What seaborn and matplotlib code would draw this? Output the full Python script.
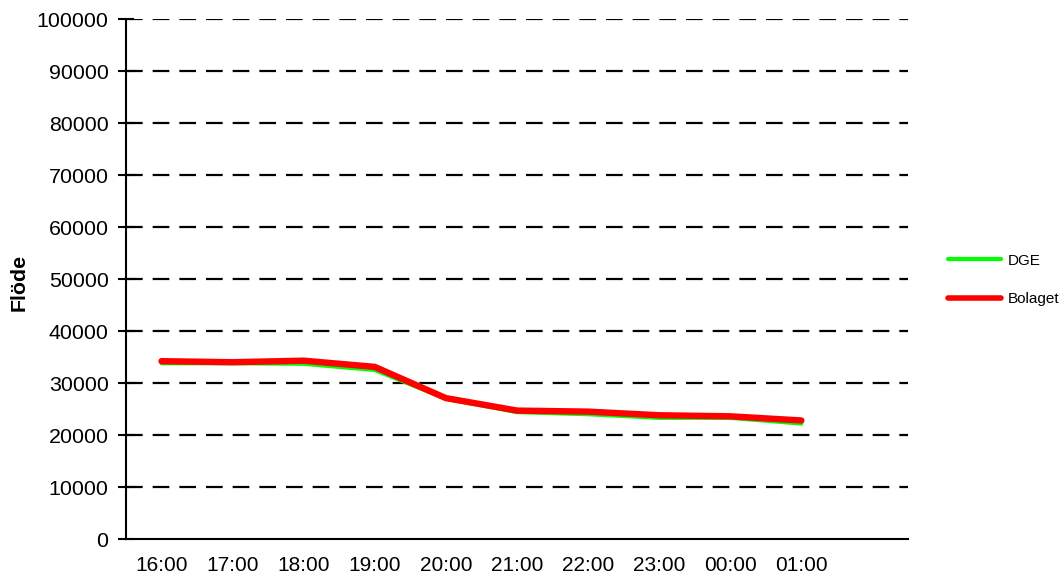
import numpy as np
import pandas as pd
import seaborn as sns
import matplotlib
matplotlib.use("Agg")
import matplotlib.pyplot as plt
from matplotlib.lines import Line2D

# Hourly flow readings
hours = ["16:00", "17:00", "18:00", "19:00", "20:00",
         "21:00", "22:00", "23:00", "00:00", "01:00"]
dge = [33800, 33800, 33700, 32500, 27000, 24400, 24000, 23300, 23300, 22200]
bolaget = [34200, 34000, 34300, 33100, 27100, 24700, 24500, 23800, 23600, 22800]
y_ticks = list(range(0, 100001, 10000))
n_slots = 11  # one empty slot after the last hour

sns.set_theme(style="white")
plt.rcParams["font.family"] = ["Liberation Sans", "DejaVu Sans"]
plt.rcParams["text.color"] = "black"
plt.rcParams["xtick.color"] = "black"
plt.rcParams["ytick.color"] = "black"
plt.rcParams["axes.labelcolor"] = "black"

df = pd.DataFrame({
    "pos": list(range(len(hours))) * 2,
    "value": dge + bolaget,
    "series": ["DGE"] * len(hours) + ["Bolaget"] * len(hours),
})

fig = plt.figure(figsize=(10.62, 5.76), dpi=100)
ax = fig.add_axes([0.1186, 0.0642, 0.7364, 0.9028])

colors = {"DGE": "#00ff00", "Bolaget": "#ff0000"}
widths = {"DGE": 3.0, "Bolaget": 4.6}
for name in ["DGE", "Bolaget"]:
    sub = df[df["series"] == name]
    sns.lineplot(data=sub, x="pos", y="value", ax=ax, color=colors[name],
                 linewidth=widths[name], solid_capstyle="round",
                 solid_joinstyle="round", legend=False,
                 zorder=3 if name == "Bolaget" else 2)

ax.set_xlim(-0.5, n_slots - 0.5)
ax.set_ylim(0, 100000)
ax.set_yticks(y_ticks)
ax.set_yticklabels([str(v) for v in y_ticks], fontsize=15.4)

# Hour labels sit in the middle of each slot; tick marks on slot edges
ax.set_xticks(range(len(hours)))
ax.set_xticklabels(hours, fontsize=15)
ax.set_xticks(np.arange(-0.5, n_slots, 1.0), minor=True)
ax.tick_params(axis="x", which="major", length=0, pad=12)
ax.tick_params(axis="x", which="minor", direction="inout", length=12, width=1.5)
ax.tick_params(axis="y", direction="inout", length=12, width=1.5, pad=6.5, left=True)

ax.set_xlabel("")
ax.set_ylabel("Flöde", fontsize=15.4, fontweight="bold")
ax.yaxis.set_label_coords(-0.124, 0.494)

for y in y_ticks[1:]:
    ax.axhline(y, color="black", linewidth=1.6, linestyle=(0, (7.5, 4.5)), zorder=1)

for side in ["top", "right"]:
    ax.spines[side].set_visible(False)
for side in ["left", "bottom"]:
    ax.spines[side].set_color("black")
    ax.spines[side].set_linewidth(1.5)

handles = [Line2D([0], [0], color=colors["DGE"], linewidth=3.0),
           Line2D([0], [0], color=colors["Bolaget"], linewidth=4.0)]
fig.legend(handles, ["DGE", "Bolaget"], loc="center left",
           bbox_to_anchor=(0.8925, 0.514), frameon=False, fontsize=11,
           handlelength=3.5, handletextpad=0.4, labelspacing=1.6,
           borderaxespad=0, borderpad=0)

fig.savefig("out.png", dpi=100)
